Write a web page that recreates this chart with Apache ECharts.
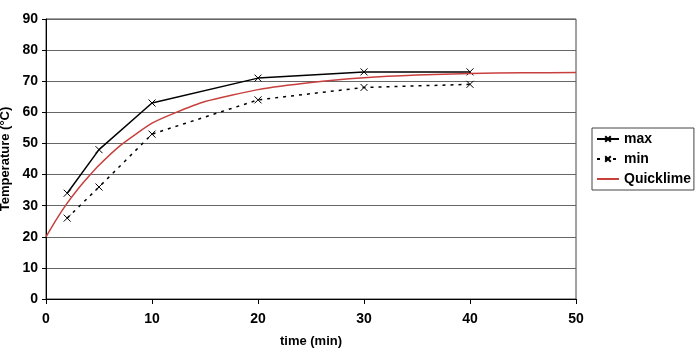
<!DOCTYPE html>
<html>
<head>
<meta charset="utf-8">
<script src="https://cdn.jsdelivr.net/npm/echarts@6/dist/echarts.min.js"></script>
<style>html,body{margin:0;padding:0;background:#fff}#main{width:700px;height:354px}</style>
</head>
<body>
<div id="main"></div>
<script>
var measTimes = [2, 5, 10, 20, 30, 40];
var maxVals = [34, 48, 63, 71, 73, 73];
var minVals = [26, 36, 53, 64, 68, 69];
var limeTimes = [0, 1, 2, 3, 4, 5, 7, 10, 12, 15, 20, 25, 30, 35, 40, 45, 50];
var limeVals = [20, 25.7, 30.8, 35.3, 39.3, 43, 49.3, 56.5, 59.6, 63.5, 67.3, 69.6, 71.1, 72, 72.5, 72.7, 72.8];

function pairs(xs, ys) {
    return xs.map(function (x, i) { return [x, ys[i]]; });
}

var cross = 'path://M0,0L10,10M10,0L0,10';
var font = 'Liberation Sans';

var myChart = echarts.init(document.getElementById('main'));

var option = {
    animation: false,
    textStyle: { fontFamily: font },
    grid: {
        left: 46, right: 124, top: 19, bottom: 55,
        outerBoundsMode: 'none',
        containLabel: false,
        show: true, borderColor: '#444', borderWidth: 1
    },
    legend: {
        orient: 'vertical',
        left: 592,
        top: 128,
        borderColor: '#444',
        borderWidth: 1,
        padding: [4, 3, 4, 4],
        itemGap: 6,
        itemWidth: 22,
        itemHeight: 7,
        textStyle: { fontFamily: font, fontWeight: 'bold', fontSize: 14, color: '#000' },
        data: ['max', 'min', { name: 'Quicklime', itemStyle: { opacity: 0 } }]
    },
    xAxis: {
        type: 'value',
        min: 0, max: 50, interval: 10,
        name: 'time (min)',
        nameLocation: 'middle',
        nameGap: 36,
        nameTextStyle: { fontFamily: font, fontWeight: 'bold', fontSize: 13, color: '#000' },
        axisLine: { lineStyle: { color: '#000' } },
        axisTick: { show: true, length: 5, lineStyle: { color: '#000' } },
        axisLabel: { fontFamily: font, fontWeight: 'bold', fontSize: 14, color: '#000', margin: 13 },
        splitLine: { show: false }
    },
    yAxis: {
        type: 'value',
        min: 0, max: 90, interval: 10,
        name: 'Temperature (°C)',
        nameLocation: 'middle',
        nameGap: 27,
        nameTextStyle: { fontFamily: font, fontWeight: 'bold', fontSize: 13, color: '#000' },
        axisLine: { show: true, lineStyle: { color: '#000' } },
        axisTick: { show: true, length: 4, lineStyle: { color: '#000' } },
        axisLabel: { fontFamily: font, fontWeight: 'bold', fontSize: 14, color: '#000', margin: 8 },
        splitLine: { lineStyle: { color: '#666', width: 1.2 } }
    },
    series: [
        {
            name: 'max',
            type: 'line',
            data: pairs(measTimes, maxVals),
            symbol: cross,
            symbolSize: 7,
            lineStyle: { color: '#000', width: 1.5 },
            itemStyle: { color: '#000', borderColor: '#000', borderWidth: 1 },
            z: 3
        },
        {
            name: 'min',
            type: 'line',
            data: pairs(measTimes, minVals),
            symbol: cross,
            symbolSize: 7,
            lineStyle: { color: '#000', width: 1.5, type: [3, 5] },
            itemStyle: { color: '#000', borderColor: '#000', borderWidth: 1 },
            z: 3
        },
        {
            name: 'Quicklime',
            type: 'line',
            data: pairs(limeTimes, limeVals),
            smooth: 0.2,
            showSymbol: false,
            symbol: 'none',
            lineStyle: { color: '#c8403e', width: 1.5 },
            itemStyle: { color: '#c8403e' },
            z: 4
        }
    ]
};
myChart.setOption(option);
</script>
</body>
</html>
